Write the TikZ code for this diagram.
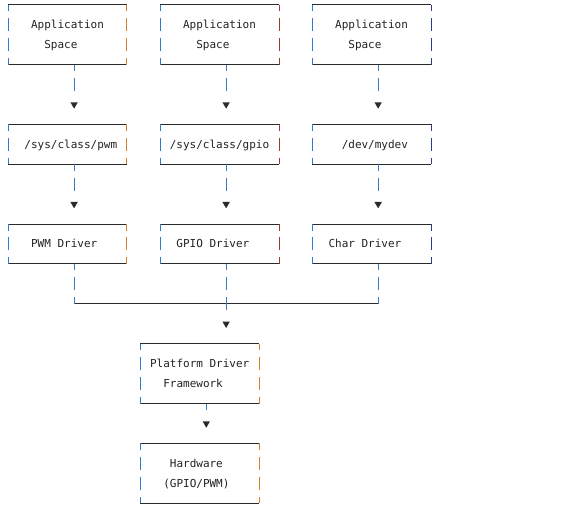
\documentclass[tikz,border=0pt]{standalone}
\usepackage{fontspec}
\newfontfamily\mono{DejaVu Sans Mono}
\usetikzlibrary{shapes.geometric}
\definecolor{lblue}{HTML}{2E7BCF}
\definecolor{rorange}{HTML}{D08030}
\definecolor{rbrown}{HTML}{9A3C2C}
\definecolor{rnavy}{HTML}{2A3D8C}
\definecolor{cblue}{HTML}{3A7CC0}
\definecolor{ink}{HTML}{2A2A2A}
\definecolor{txt}{HTML}{222222}
\newcommand\pad[1]{\hspace*{#1\fontcharwd\font`x}}
\newcommand\tl[2]{\rule[-4.63pt]{0pt}{14.955pt}\pad{#1}#2}
\tikzset{
  asciibox/.style={draw=none, inner sep=0pt, outer sep=0pt, minimum width=89.235pt,
    align=left, text width=84.43pt, text=txt,
    font=\mono\fontsize{8.25pt}{14.955pt}\selectfont},
  tall/.style={minimum height=44.865pt},
  short/.style={minimum height=29.91pt},
  hl/.style={draw=ink, line width=0.75pt},
  vl/.style={line width=0.75pt, dash pattern=on 9.75pt off 5.205pt, dash phase=4.875pt},
  conn/.style={vl, draw=cblue, shorten >=4.5pt},
  tri/.style={regular polygon, regular polygon sides=3, shape border rotate=180,
    minimum size=6.4pt, inner sep=0pt, outer sep=0pt, fill=ink, draw=none}
}
\newcommand\bx[2]{%
  \draw[hl] (#1.north west) -- (#1.north east) (#1.south west) -- (#1.south east);
  \draw[vl,draw=lblue] (#1.north west) -- (#1.south west);
  \draw[vl,draw=#2] (#1.north east) -- (#1.south east);}
\begin{document}
\begin{tikzpicture}[x=0.75pt,y=-0.75pt]
\useasboundingbox (0,0) rectangle (581,517);
% top row: application space
\node[asciibox,tall] (b1) at (67.49,34.61) {\tl{3}{Application}\\\tl{5}{Space}};
\node[asciibox,tall] (b2) at (219.52,34.61) {\tl{3}{Application}\\\tl{5}{Space}};
\node[asciibox,tall] (b3) at (371.55,34.61) {\tl{3}{Application}\\\tl{5}{Space}};
% interfaces
\node[asciibox,short] (p1) at (67.49,144.28) {\tl{2}{/sys/class/pwm}};
\node[asciibox,short] (p2) at (219.52,144.28) {\tl{1}{/sys/class/gpio}};
\node[asciibox,short] (p3) at (371.55,144.28) {\tl{4}{/dev/mydev}};
% drivers
\node[asciibox,short] (d1) at (67.49,243.98) {\tl{3}{PWM\pad{1}Driver}};
\node[asciibox,short] (d2) at (219.52,243.98) {\tl{2}{GPIO\pad{1}Driver}};
\node[asciibox,short] (d3) at (371.55,243.98) {\tl{2}{Char\pad{1}Driver}};
% framework and hardware
\node[asciibox,tall] (pf) at (199.69,373.59) {\tl{1}{Platform\pad{1}Driver}\\\tl{3}{Framework}};
\node[asciibox,tall] (hw) at (199.69,473.29) {\tl{4}{Hardware}\\\tl{3}{(GPIO/PWM)}};
% borders
\bx{b1}{rorange}\bx{b2}{rbrown}\bx{b3}{rnavy}
\bx{p1}{rorange}\bx{p2}{rbrown}\bx{p3}{rnavy}
\bx{d1}{rorange}\bx{d2}{rbrown}\bx{d3}{rnavy}
\bx{pf}{rorange}\bx{hw}{rorange}
% arrow heads
\node[tri] (v1) at (74.1,104.4) {};
\node[tri] (v2) at (226.13,104.4) {};
\node[tri] (v3) at (378.16,104.4) {};
\node[tri] (v4) at (74.1,204.1) {};
\node[tri] (v5) at (226.13,204.1) {};
\node[tri] (v6) at (378.16,204.1) {};
\node[tri] (v7) at (226.13,323.74) {};
\node[tri] (v8) at (206.3,423.44) {};
% connectors
\draw[conn] (b1.south -| v1) -- (v1.north);
\draw[conn] (b2.south -| v2) -- (v2.north);
\draw[conn] (b3.south -| v3) -- (v3.north);
\draw[conn] (p1.south -| v4) -- (v4.north);
\draw[conn] (p2.south -| v5) -- (v5.north);
\draw[conn] (p3.south -| v6) -- (v6.north);
\coordinate (j1) at (74.1,303.8);
\coordinate (j3) at (378.16,303.8);
\draw[hl] (j1) -- (j3);
\draw[vl,draw=cblue] (d1.south -| j1) -- (j1);
\draw[vl,draw=cblue] (d3.south -| j3) -- (j3);
\draw[conn] (d2.south -| v7) -- (v7.north);
\draw[conn] (pf.south -| v8) -- (v8.north);
\end{tikzpicture}
\end{document}
